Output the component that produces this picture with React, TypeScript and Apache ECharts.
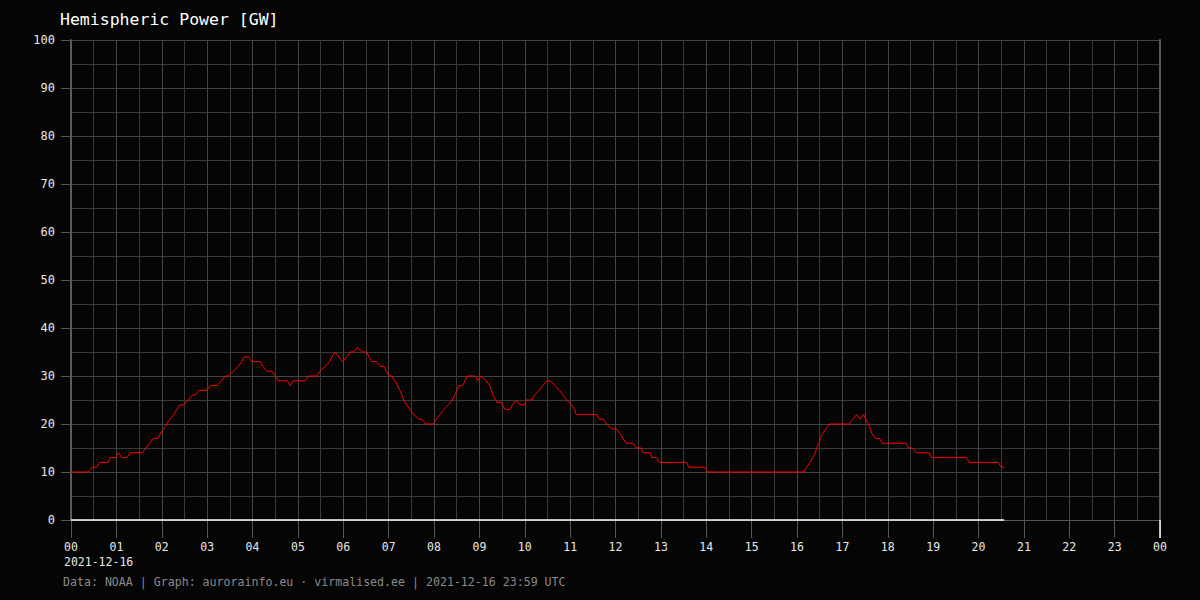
import React, { useEffect, useRef } from "react";
import * as echarts from "echarts";

// Sample times (UTC, HH:MM) and hemispheric power readings [GW], 2021-12-16
const times: string[] = [
  "00:00","00:23","00:28","00:34","00:38","00:49","00:52","00:59","01:03","01:07",
  "01:14","01:18","01:34","01:39","01:44","01:49","01:55","02:00","02:05","02:09",
  "02:16","02:20","02:24","02:29","02:35","02:40","02:44","02:49","02:59","03:04",
  "03:13","03:19","03:24","03:28","03:35","03:41","03:46","03:49","03:55","03:59",
  "04:10","04:14","04:19","04:26","04:30","04:34","04:46","04:50","04:54","05:10",
  "05:14","05:25","05:29","05:36","05:42","05:45","05:49","05:59","06:05","06:09",
  "06:14","06:19","06:25","06:31","06:34","06:38","06:44","06:49","06:54","06:57",
  "07:00","07:04","07:11","07:16","07:20","07:26","07:33","07:40","07:44","07:49",
  "07:59","08:03","08:08","08:13","08:19","08:24","08:29","08:33","08:38","08:41",
  "08:44","08:54","08:58","09:02","09:09","09:14","09:18","09:23","09:29","09:34",
  "09:40","09:44","09:49","09:53","10:00","10:02","10:09","10:13","10:19","10:24",
  "10:29","10:34","10:40","10:46","10:51","10:55","11:02","11:06","11:08","11:35",
  "11:39","11:44","11:48","11:55","12:01","12:06","12:10","12:14","12:23","12:28",
  "12:34","12:37","12:46","12:48","12:54","12:58","13:34","13:37","13:58","14:02",
  "16:09","16:13","16:17","16:21","16:24","16:26","16:29","16:31","16:34","16:38",
  "16:43","17:09","17:14","17:19","17:23","17:28","17:31","17:36","17:39","17:44",
  "17:49","17:53","18:24","18:28","18:33","18:38","18:55","18:58","19:44","19:48",
  "20:26","20:30","20:34",
];

const powerGW: number[] = [
  10,10,11,11,12,12,13,13,14,13,
  13,14,14,15,16,17,17,18.5,19.5,20.6,
  22,23,24,24,25,26,26,27,27,28,
  28,29,30,30,31,32,33,34,34,33,
  33,32,31,31,30,29,29,28,29,29,
  30,30,31,32,33,34,35,33,34,35,
  35,36,35,35,34,33,33,32,32,31,
  30,30,28.3,26.6,25,23.5,22,21,21,20,
  20,21,22,23,24,25,26.5,28,28,29,
  30,30,29,30,29,28,26,24.5,24.5,23,
  23,24,25,24,24,25,25,26,27,28,
  29,29,28,27,26,25,24,23,22,22,
  21,21,20,19,19,18,17,16,16,15,
  15,14,14,13,13,12,12,11,11,10,
  10,11,12,13,14,15,16,17,18,19,
  20,20,21,22,21,22,21,19.5,18,17,
  17,16,16,15,15,14,14,13,13,12,
  12,11,11,
];

const hourTicks: number[] = Array.from({ length: 25 }, (_, i) => i);
const yTicks: number[] = [0, 10, 20, 30, 40, 50, 60, 70, 80, 90, 100];

const titleText = "Hemispheric Power [GW]";
const dateText = "2021-12-16";
const footerText = "Data: NOAA | Graph: aurorainfo.eu · virmalised.ee | 2021-12-16 23:59 UTC";
const nowHour = 24;

const MONO = "'DejaVu Sans Mono', 'Liberation Mono', monospace";

function toHour(t: string): number {
  const [h, m] = t.split(":").map(Number);
  return h + m / 60;
}

export default function App() {
  const ref = useRef<HTMLDivElement>(null);

  useEffect(() => {
    if (!ref.current) return;
    const chart = echarts.init(ref.current, undefined, { renderer: "svg" });
    const points = times.map((t, i) => [toHour(t), powerGW[i]]);
    const lastHour = toHour(times[times.length - 1]);

    chart.setOption({
      animation: false,
      backgroundColor: "#050505",
      title: {
        text: titleText,
        left: 55,
        top: 6,
        textStyle: { color: "#ffffff", fontFamily: MONO, fontSize: 16.5, fontWeight: "normal" },
      },
      graphic: [
        {
          type: "text",
          left: 64,
          top: 556,
          style: { text: dateText, fill: "#e8e8e8", font: `11.5px ${MONO}` },
        },
        {
          type: "text",
          left: 63,
          top: 576,
          style: { text: footerText, fill: "#8a8a8a", font: `11.6px ${MONO}` },
        },
      ],
      grid: { left: 71, right: 40, top: 40, bottom: 80, containLabel: false },
      xAxis: {
        type: "value",
        min: hourTicks[0],
        max: hourTicks[hourTicks.length - 1],
        interval: 1,
        axisLine: { show: true, lineStyle: { color: "#555555", width: 1 } },
        axisTick: { show: true, length: 18, lineStyle: { color: "#555555" } },
        axisLabel: {
          color: "#e8e8e8",
          fontFamily: MONO,
          fontSize: 11.5,
          margin: 21,
          showMinLabel: true,
          showMaxLabel: true,
          formatter: (v: number) => String(Math.round(v) % 24).padStart(2, "0"),
        },
        splitLine: { show: true, lineStyle: { color: "#444444", width: 1 } },
        minorTick: { show: false, splitNumber: 2 },
        minorSplitLine: { show: true, lineStyle: { color: "#3a3a3a", width: 1 } },
      },
      yAxis: [
        {
          type: "value",
          min: yTicks[0],
          max: yTicks[yTicks.length - 1],
          interval: 10,
          axisLine: { show: true, lineStyle: { color: "#5a5a5a", width: 2 } },
          axisTick: { show: true, length: 10, lineStyle: { color: "#555555" } },
          axisLabel: { color: "#e8e8e8", fontFamily: MONO, fontSize: 12, margin: 16 },
          splitLine: { show: true, lineStyle: { color: "#444444", width: 1 } },
          minorTick: { show: false, splitNumber: 2 },
          minorSplitLine: { show: true, lineStyle: { color: "#3a3a3a", width: 1 } },
        },
        {
          type: "value",
          position: "right",
          min: yTicks[0],
          max: yTicks[yTicks.length - 1],
          interval: 10,
          axisLine: { show: true, lineStyle: { color: "#5a5a5a", width: 2 } },
          axisTick: { show: false },
          axisLabel: { show: false },
          splitLine: { show: false },
        },
      ],
      series: [
        {
          type: "line",
          data: points,
          symbol: "none",
          lineStyle: { color: "#ff0000", width: 1 },
          z: 5,
        },
        {
          type: "line",
          data: [[0, 0], [lastHour, 0]],
          symbol: "none",
          clip: false,
          lineStyle: { color: "#ffffff", width: 1.5 },
          z: 6,
        },
        {
          type: "line",
          data: [[nowHour, 0], [nowHour, -3.75]],
          symbol: "none",
          clip: false,
          lineStyle: { color: "#ffffff", width: 1.5 },
          z: 6,
        },
      ],
    });

    return () => chart.dispose();
  }, []);

  return (
    <div
      ref={ref}
      style={{ position: "fixed", left: 0, top: 0, width: 1200, height: 600 }}
    />
  );
}
